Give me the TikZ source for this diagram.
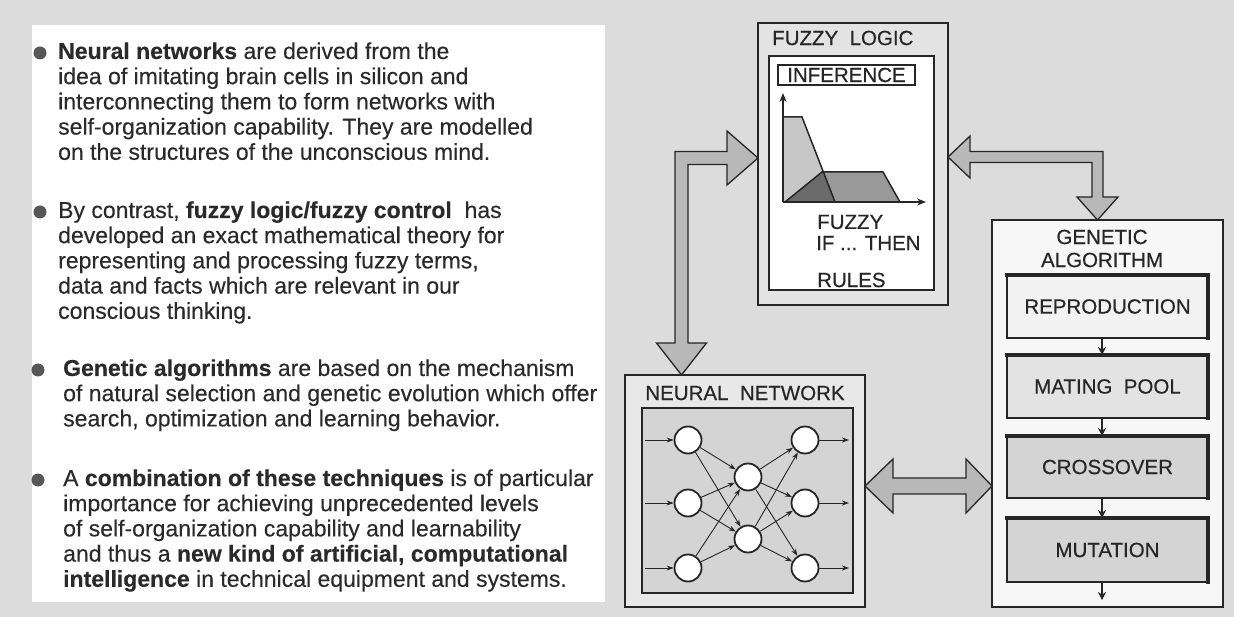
\documentclass[tikz,border=0pt]{standalone}
\usepackage{fontspec}
\setmainfont{Liberation Sans}[FakeBold=0.25]
\newfontfamily\labelfont{Liberation Sans}[FakeBold=0.45]
\usetikzlibrary{arrows.meta}
\definecolor{ink}{HTML}{262626}
\definecolor{txt}{HTML}{2A2A2A}
\definecolor{bg}{HTML}{DCDCDC}
\tikzset{
  body/.style={anchor=base west, inner sep=0pt, text=txt, font=\fontsize{23}{25}\selectfont},
  dotmark/.style={circle, fill=black!66, minimum size=13pt, inner sep=0pt},
  lbl/.style={text=ink, font=\labelfont\fontsize{20.5}{23}\selectfont, inner sep=0pt},
  panel/.style={draw=ink, outer sep=0pt, inner sep=0pt},
  bigarrow/.style={draw=ink, line width=1.3pt, fill=black!28, line join=miter},
  neuron/.style={circle, draw=ink, line width=1.8pt, fill=white, minimum size=27pt, inner sep=0pt},
  syn/.style={draw=ink, line width=0.9pt, -{Stealth[length=7pt,width=5pt]}},
  gabox/.style={panel, line width=1.8pt, minimum width=201pt, text=ink,
                font=\labelfont\fontsize{20.5}{23}\selectfont},
  shade/.style={draw=ink, line width=4.5pt, line cap=rect},
  flow/.style={draw=ink, line width=1.2pt, -{Stealth[length=8pt,width=8pt]}},
  curve/.style={draw=ink, line width=1.5pt, line join=miter}
}
\begin{document}
\begin{tikzpicture}[x=1pt,y=-1pt]
\useasboundingbox (0,0) rectangle (1234,617);
% page ground and text panel
\fill[bg] (0,0) rectangle (1234,617);
\fill[white] (32,25) rectangle (605,602);

% ---------- bullet text ----------
\node[dotmark] (b1) at (40,53) {};
\node[body] (t1) at (58,59.0)  {\textbf{Neural networks} are derived from the};
\node[body] (t2) at (58,84.2)  {idea of imitating brain cells in silicon and};
\node[body] (t3) at (58,109.4) {interconnecting them to form networks with};
\node[body] (t4) at (58,134.6) {self-organization capability. They are modelled};
\node[body] (t5) at (58,159.8) {on the structures of the unconscious mind.};

\node[dotmark] (b2) at (40,212) {};
\node[body] (t6)  at (58,218.0) {By contrast, \textbf{fuzzy logic/fuzzy control}\ \ has};
\node[body] (t7)  at (58,243.2) {developed an exact mathematical theory for};
\node[body] (t8)  at (58,268.4) {representing and processing fuzzy terms,};
\node[body] (t9)  at (58,293.6) {data and facts which are relevant in our};
\node[body] (t10) at (58,318.8) {conscious thinking.};

\node[dotmark] (b3) at (38,370) {};
\node[body] (t11) at (63,376.0) {\textbf{Genetic algorithms} are based on the mechanism};
\node[body] (t12) at (63,401.2) {of natural selection and genetic evolution which offer};
\node[body] (t13) at (63,426.4) {search, optimization and learning behavior.};

\node[dotmark] (b4) at (38,480) {};
\node[body] (t14) at (63,486.0) {A \textbf{combination of these techniques} is of particular};
\node[body] (t15) at (63,511.2) {importance for achieving unprecedented levels};
\node[body] (t16) at (63,536.4) {of self-organization capability and learnability};
\node[body] (t17) at (63,561.6) {and thus a \textbf{new kind of artificial, computational}};
\node[body] (t18) at (63,586.8) {\textbf{intelligence} in technical equipment and systems.};

% ---------- fuzzy logic block ----------
\node[panel, line width=1.6pt, fill=black!11, minimum width=190pt, minimum height=282pt] (fz) at (853,164) {};
\node[lbl, anchor=west] (fzt) at (772,38) {FUZZY\ \ LOGIC};
\node[panel, line width=1.8pt, fill=white, minimum width=165pt, minimum height=234pt] (fzin) at (851.5,173) {};
\node[panel, line width=1.5pt, minimum width=137pt, minimum height=20pt, text=ink,
      font=\labelfont\fontsize{20.5}{23}\selectfont] (inf) at (846.5,75) {INFERENCE};
% membership functions
\coordinate (org) at (783,202);
\fill[black!22] (783,202) -- (783,117) -- (802,117) -- (835,202) -- cycle;
\fill[black!40] (785,202) -- (822,172) -- (883,172) -- (900,202) -- cycle;
\begin{scope}
  \clip (783,202) -- (783,117) -- (802,117) -- (835,202) -- cycle;
  \fill[black!58] (785,202) -- (822,172) -- (883,172) -- (900,202) -- cycle;
\end{scope}
\draw[curve] (783,117) -- (802,117) -- (835,202);
\draw[curve] (785,202) -- (822,172) -- (883,172) -- (900,202);
\coordinate (ytop) at (783,93);
\coordinate (xend) at (926,202);
\draw[ink, line width=1.6pt, -{Stealth[length=9pt,width=7pt]}] (org) -- (ytop);
\draw[ink, line width=1.6pt, -{Stealth[length=9pt,width=7pt]}] (org) -- (xend);
\node[lbl, anchor=west] (r1) at (817,222) {FUZZY};
\node[lbl, anchor=west] (r2) at (816,243) {IF ... THEN};
\node[lbl, anchor=west] (r3) at (817,280) {RULES};

% ---------- neural network block ----------
\node[panel, line width=1.3pt, fill=black!9, minimum width=240pt, minimum height=232pt] (nn) at (745,491) {};
\node[lbl] (nnt) at (745,393) {NEURAL\ \ NETWORK};
\node[panel, line width=2.8pt, fill=black!17, minimum width=211pt, minimum height=185pt] (nnin) at (747.5,500.5) {};
\node[neuron] (i1) at (688,440) {};
\node[neuron] (i2) at (688,503) {};
\node[neuron] (i3) at (688,568) {};
\node[neuron] (h1) at (748,477) {};
\node[neuron] (h2) at (748,539) {};
\node[neuron] (o1) at (805,440) {};
\node[neuron] (o2) at (805,503) {};
\node[neuron] (o3) at (805,568) {};
\foreach \k/\y in {1/440,2/503,3/568} {
  \coordinate (in\k) at (645,\y);
  \coordinate (out\k) at (849,\y);
  \draw[syn] (in\k) -- (i\k);
  \draw[syn] (o\k) -- (out\k);
}
\foreach \a in {1,2,3} {
  \foreach \b in {1,2} {
    \draw[syn] (i\a) -- (h\b);
    \draw[syn] (h\b) -- (o\a);
  }
}

% ---------- genetic algorithm block ----------
\node[panel, line width=1.6pt, fill=black!3, minimum width=231pt, minimum height=387pt] (ga) at (1107.5,413.5) {};
\node[lbl, align=center] (gat) at (1102,248.5) {GENETIC\\ALGORITHM};
\node[gabox, fill=black!5,  minimum height=63pt] (g1) at (1107.5,306.5) {REPRODUCTION};
\node[gabox, fill=black!11, minimum height=63pt] (g2) at (1107.5,386.5) {MATING\ \ POOL};
\node[gabox, fill=black!17, minimum height=62pt] (g3) at (1107.5,467)   {CROSSOVER};
\node[gabox, fill=black!17, minimum height=64pt] (g4) at (1107.5,550)   {MUTATION};
\foreach \g in {g1,g2,g3,g4} {
  \draw[shade] (\g.north west) -- (\g.north east) -- (\g.south east);
}
\draw[flow] ([xshift=-5.5pt]g1.south) -- ([xshift=-5.5pt]g2.north);
\draw[flow] ([xshift=-5.5pt]g2.south) -- ([xshift=-5.5pt]g3.north);
\draw[flow] ([xshift=-5.5pt]g3.south) -- ([xshift=-5.5pt]g4.north);
\coordinate (gend) at (1102,600);
\draw[flow] ([xshift=-5.5pt]g4.south) -- (gend);

% ---------- block arrows between the three fields ----------
\draw[bigarrow] (fz.west |- 0,158) -- (727,131) -- (727,151.5) -- (675,151.5)
  -- (675,343) -- (656.5,343) -- (681.5,0 |- nn.north) -- (706.5,343) -- (688,343)
  -- (688,164.5) -- (727,164.5) -- (727,185) -- cycle;
\draw[bigarrow] (fz.east |- 0,157) -- (970,136) -- (970,151.5) -- (1103,151.5)
  -- (1103,197) -- (1118,197) -- (1097.5,0 |- ga.north) -- (1077,197) -- (1092,197)
  -- (1092,162.5) -- (970,162.5) -- (970,178) -- cycle;
\draw[bigarrow] (nn.east |- 0,486) -- (893,459) -- (893,478) -- (966,478) -- (966,459)
  -- (ga.west |- 0,486) -- (966,513) -- (966,494) -- (893,494) -- (893,513) -- cycle;
\end{tikzpicture}
\end{document}
